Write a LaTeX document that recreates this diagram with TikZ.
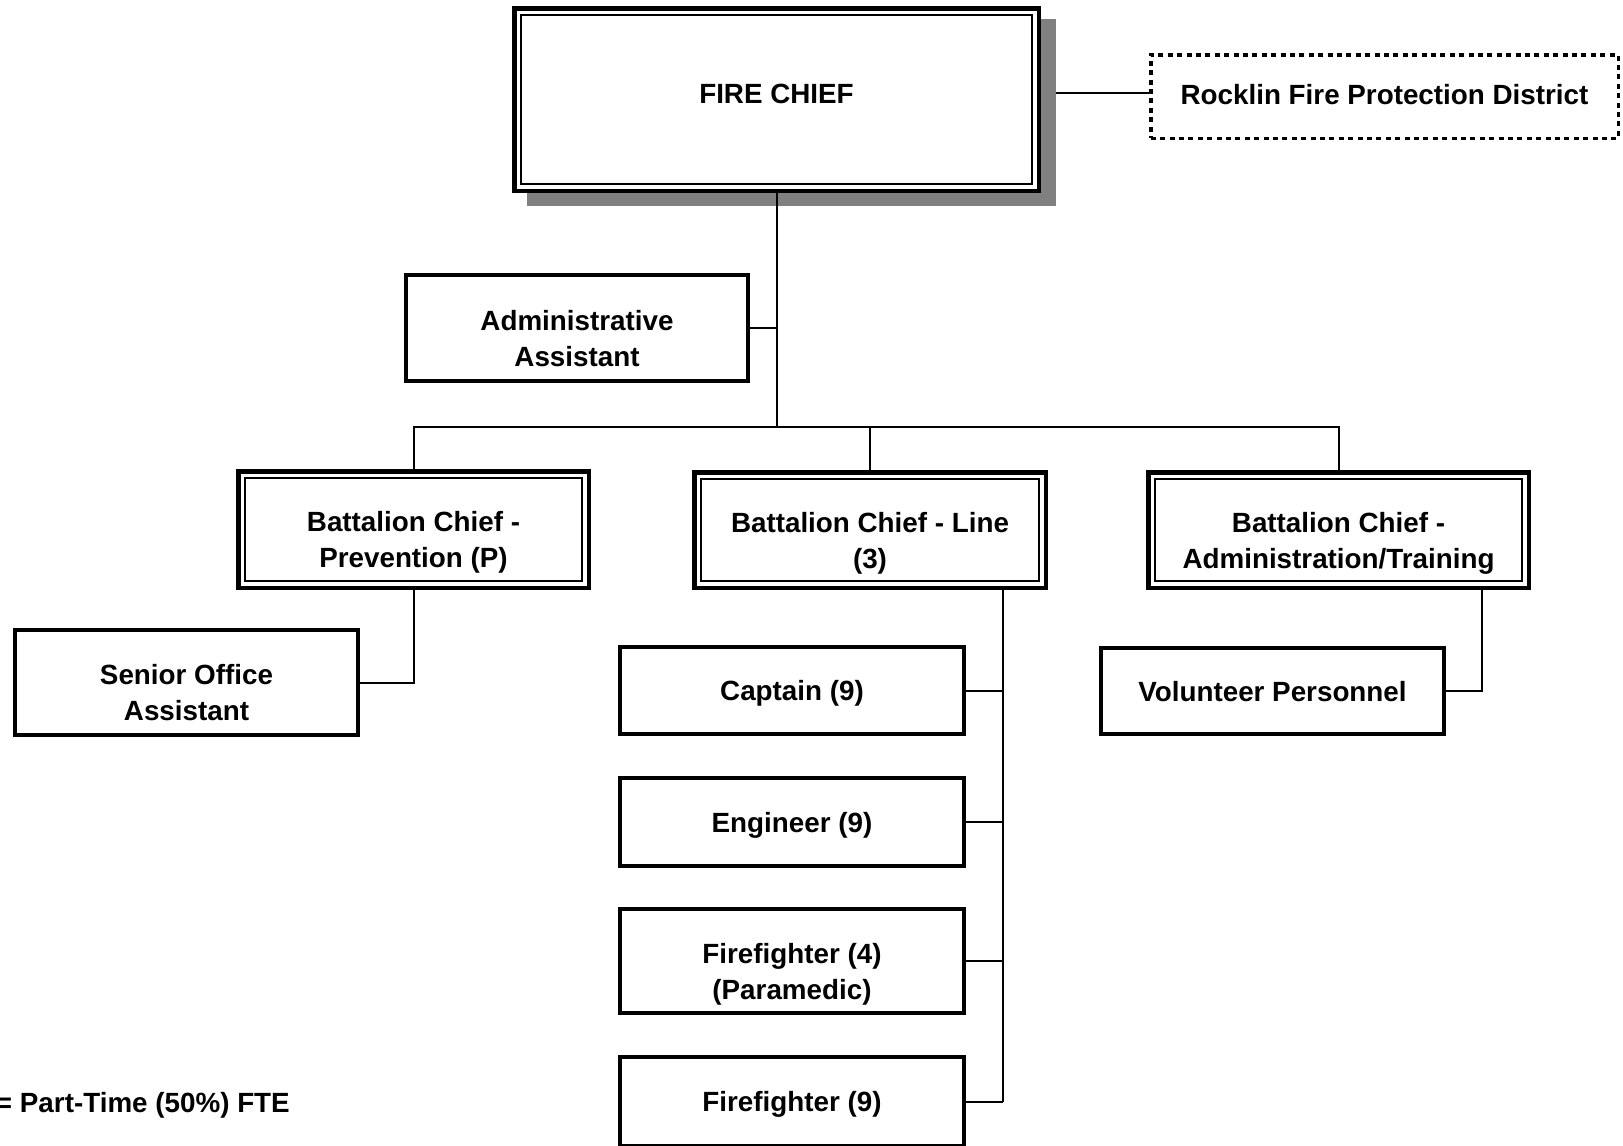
\documentclass[tikz,border=0pt]{standalone}
\usepackage{fontspec}
\setmainfont{Liberation Sans}
\definecolor{shadowgray}{RGB}{128,128,128}
\begin{document}
\begin{tikzpicture}[x=1bp,y=-1bp,
  every node/.style={font=\bfseries\fontsize{27.8bp}{36bp}\selectfont, align=center, inner sep=0pt, outer sep=0pt},
  plainbox/.style={draw, line width=4bp, fill=white},
  dblbox/.style={draw, line width=4.5bp, fill=white},
  dashbox/.style={draw, line width=3.5bp, dash pattern=on 5bp off 4.4bp, fill=white},
  oneline/.style={text height=20bp, text depth=0bp},
  twoline/.style={text height=76bp, text depth=0bp},
  conn/.style={line width=2bp},
  innerline/.style={line width=1.8bp}]
\useasboundingbox (0,0) rectangle (1623,1145);

% shadow and Fire Chief
\node[fill=shadowgray, minimum width=529bp, minimum height=187bp] (fcs) at (791,112.5) {};
\node[dblbox, oneline, minimum width=524.5bp, minimum height=182.5bp] (fc) at (776.5,99.5) {\raisebox{6.5bp}{FIRE CHIEF}};
\node[dashbox, oneline, minimum width=467.5bp, minimum height=83.5bp] (rfpd) at (1384.5,96.5) {\raisebox{2.5bp}{Rocklin Fire Protection District}};

\node[plainbox, twoline, minimum width=342bp, minimum height=106bp] (aa) at (577,328) {Administrative\\Assistant};

\node[dblbox, twoline, minimum width=350.5bp, minimum height=116.5bp] (bcp) at (413.5,529.5) {Battalion Chief -\\Prevention (P)};
\node[dblbox, twoline, minimum width=351.5bp, minimum height=115.5bp] (bcl) at (870,530) {Battalion Chief - Line\\(3)};
\node[dblbox, twoline, minimum width=380.5bp, minimum height=115.5bp] (bca) at (1338.5,530) {Battalion Chief -\\Administration/Training};

\node[plainbox, twoline, minimum width=343bp, minimum height=105bp] (soa) at (186.5,682.5) {Senior Office\\Assistant};
\node[plainbox, oneline, minimum width=344bp, minimum height=87bp] (cap) at (792,690.5) {Captain (9)};
\node[plainbox, oneline, minimum width=344bp, minimum height=88bp] (eng) at (792,822) {Engineer (9)};
\node[plainbox, twoline, minimum width=344bp, minimum height=104bp] (ff4) at (792,961) {Firefighter (4)\\(Paramedic)};
\node[plainbox, oneline, minimum width=344bp, minimum height=89bp] (ff9) at (792,1101.5) {Firefighter (9)};
\node[plainbox, oneline, minimum width=343bp, minimum height=86bp] (vol) at (1272.5,691) {Volunteer Personnel};

\node[anchor=base west] (note) at (-4,1112) {= Part-Time (50\%) FTE};

% inner lines of double boxes
\foreach \n in {fc,bcp,bcl,bca}
  \draw[innerline] ([shift={(6.5bp,-6.5bp)}]\n.north west) rectangle ([shift={(-6.5bp,6.5bp)}]\n.south east);

% connectors
\coordinate (bus) at (776.5,427);
\coordinate (lx) at (1003,0);
\coordinate (ax) at (1482,0);
\draw[conn] ([yshift=3.5bp]rfpd.west) -- ([yshift=3.5bp]rfpd.west -| fcs.east);
\draw[conn] (fc.south) -- (bus);
\draw[conn] (aa.east) -- (aa.east -| fc.south);
\draw[conn] (bcp.north) |- (bus) -| (bca.north);
\draw[conn] (bcl.north) -- (bcl.north |- bus);
\draw[conn] (bcp.south) |- (soa.east);
\draw[conn] (bcl.south -| lx) -- (ff9.east -| lx);
\foreach \n in {cap,eng,ff4,ff9}
  \draw[conn] (\n.east) -- (\n.east -| lx);
\draw[conn] (bca.south -| ax) |- (vol.east);
\end{tikzpicture}
\end{document}
